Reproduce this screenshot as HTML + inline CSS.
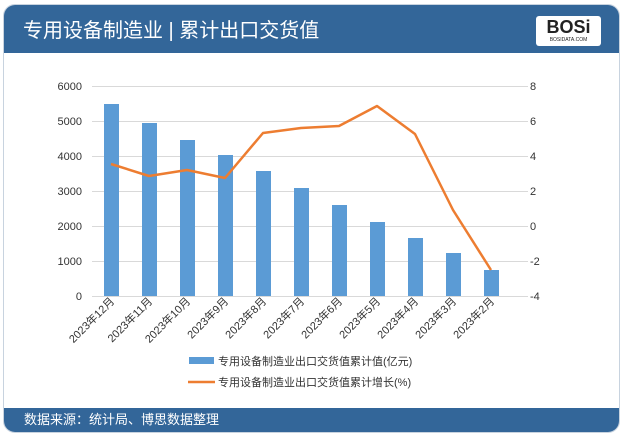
<!DOCTYPE html>
<html><head><meta charset="utf-8"><style>
body{margin:0;width:623px;height:436px;background:#fff;overflow:hidden;font-family:"Liberation Sans","Noto Sans CJK SC",sans-serif}
.card{position:absolute;left:3px;top:4px;width:617px;height:429px;border-radius:12px;overflow:hidden;background:#fff;border:1px solid #c8d3df;box-sizing:border-box}
.hdr{position:absolute;left:0;top:0;width:100%;height:48px;background:#336699}
.hdr .t{position:absolute;left:19px;top:9px;color:#fff;font-size:20px}
.ftr{position:absolute;left:0;bottom:0;width:100%;height:24px;background:#336699;color:#fff;font-size:13px;line-height:24px;padding-left:20px;box-sizing:border-box}
.logo{position:absolute;right:18px;top:11px;width:65px;height:30px;background:#fff;border-radius:3px;text-align:center;font-weight:bold;font-size:18px;line-height:22px;color:#222}
.logo small{display:block;font-size:5px;line-height:5px;font-weight:normal}
</style></head><body>
<div class="card">
<div class="hdr"><div class="t">专用设备制造业 | 累计出口交货值</div><div class="logo">BOSi<small>BOSIDATA.COM</small></div></div>
<div class="ftr">数据来源：统计局、博思数据整理</div>
</div>
<svg width="623" height="436" style="position:absolute;left:0;top:0" font-family="Liberation Sans, Noto Sans CJK SC, sans-serif">
<g stroke="#d9d9d9" stroke-width="1">
<line x1="92" x2="528" y1="86.5" y2="86.5"/><line x1="92" x2="528" y1="121.5" y2="121.5"/><line x1="92" x2="528" y1="156.5" y2="156.5"/><line x1="92" x2="528" y1="191.5" y2="191.5"/><line x1="92" x2="528" y1="226.5" y2="226.5"/><line x1="92" x2="528" y1="261.5" y2="261.5"/><line x1="92" x2="528" y1="296.5" y2="296.5"/>
</g>
<g font-size="11" fill="#333" text-anchor="end">
<text x="82" y="90">6000</text><text x="82" y="125">5000</text><text x="82" y="160">4000</text><text x="82" y="195">3000</text><text x="82" y="230">2000</text><text x="82" y="265">1000</text><text x="82" y="300">0</text>
</g>
<g font-size="11" fill="#333" text-anchor="start">
<text x="530" y="90">8</text><text x="530" y="125">6</text><text x="530" y="160">4</text><text x="530" y="195">2</text><text x="530" y="230">0</text><text x="530" y="265">-2</text><text x="530" y="300">-4</text>
</g>
<g fill="#5B9BD5">
<rect x="104" y="104" width="15" height="192"/>
<rect x="142" y="123" width="15" height="173"/>
<rect x="180" y="140" width="15" height="156"/>
<rect x="218" y="155" width="15" height="141"/>
<rect x="256" y="171" width="15" height="125"/>
<rect x="294" y="188" width="15" height="108"/>
<rect x="332" y="205" width="15" height="91"/>
<rect x="370" y="222" width="15" height="74"/>
<rect x="408" y="238" width="15" height="58"/>
<rect x="446" y="253" width="15" height="43"/>
<rect x="484" y="270" width="15" height="26"/>
</g>
<polyline fill="none" stroke="#ED7D31" stroke-width="2.5" stroke-linejoin="round" points="111,164 149,176 187,170 225,178 263,133 301,128 339,126 377,106 415,134 453,210 491,270"/>
<g font-size="11" fill="#333" text-anchor="end">
<text transform="translate(115,302) rotate(-45)">2023年12月</text>
<text transform="translate(153,302) rotate(-45)">2023年11月</text>
<text transform="translate(191,302) rotate(-45)">2023年10月</text>
<text transform="translate(229,302) rotate(-45)">2023年9月</text>
<text transform="translate(267,302) rotate(-45)">2023年8月</text>
<text transform="translate(305,302) rotate(-45)">2023年7月</text>
<text transform="translate(343,302) rotate(-45)">2023年6月</text>
<text transform="translate(381,302) rotate(-45)">2023年5月</text>
<text transform="translate(419,302) rotate(-45)">2023年4月</text>
<text transform="translate(457,302) rotate(-45)">2023年3月</text>
<text transform="translate(495,302) rotate(-45)">2023年2月</text>
</g>
<rect x="189" y="357" width="25" height="7" fill="#5B9BD5"/>
<line x1="188" x2="215" y1="382" y2="382" stroke="#ED7D31" stroke-width="2.5"/>
<g font-size="11" fill="#333"><text x="218" y="365">专用设备制造业出口交货值累计值(亿元)</text><text x="218" y="386">专用设备制造业出口交货值累计增长(%)</text></g>
</svg>
</body></html>
